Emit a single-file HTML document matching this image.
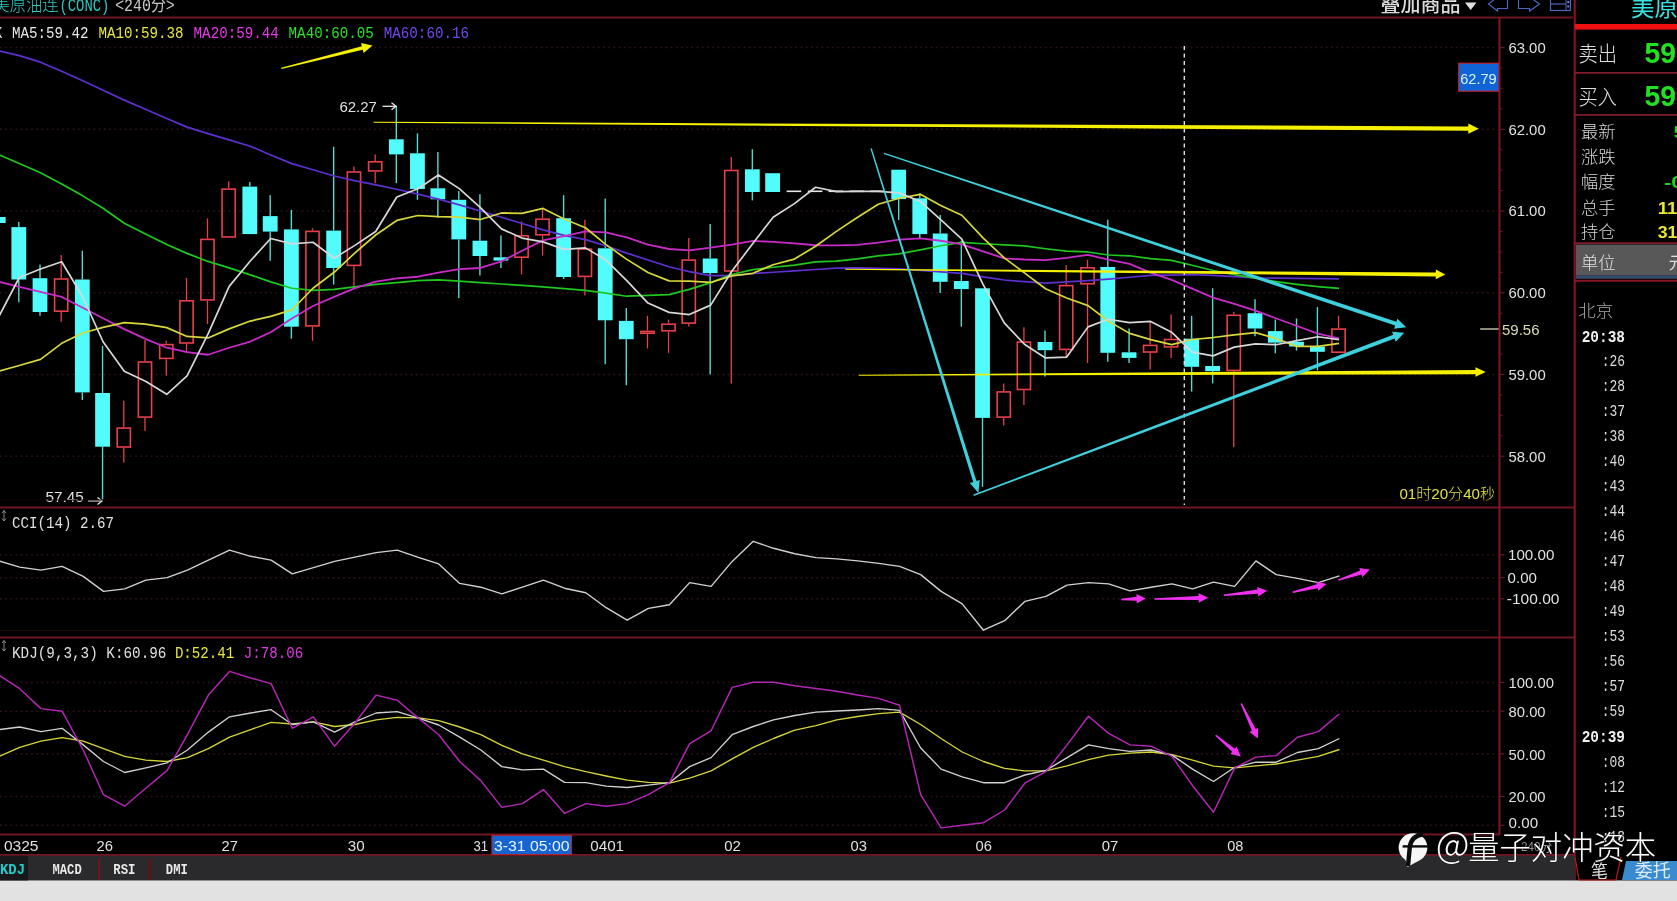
<!DOCTYPE html>
<html><head><meta charset="utf-8"><title>美原油连 CONC 240分</title>
<style>
html,body{margin:0;padding:0;background:#000;}
body{width:1677px;height:901px;overflow:hidden;}
svg{display:block;filter:blur(0.4px);}
</style></head><body>
<svg width="1677" height="901" viewBox="0 0 1677 901">
<rect x="0" y="0" width="1677" height="901" fill="#000" />
<line x1="0" y1="47.6" x2="1498" y2="47.6" stroke="#32161c" stroke-width="1.5" stroke-dasharray="1.5 3.7"/>
<line x1="0" y1="129.32" x2="1498" y2="129.32" stroke="#32161c" stroke-width="1.5" stroke-dasharray="1.5 3.7"/>
<line x1="0" y1="211.04" x2="1498" y2="211.04" stroke="#32161c" stroke-width="1.5" stroke-dasharray="1.5 3.7"/>
<line x1="0" y1="292.76" x2="1498" y2="292.76" stroke="#32161c" stroke-width="1.5" stroke-dasharray="1.5 3.7"/>
<line x1="0" y1="374.48" x2="1498" y2="374.48" stroke="#32161c" stroke-width="1.5" stroke-dasharray="1.5 3.7"/>
<line x1="0" y1="456.2" x2="1498" y2="456.2" stroke="#32161c" stroke-width="1.5" stroke-dasharray="1.5 3.7"/>
<text x="-6.5" y="11.2" fill="#2cc8c0" font-size="18.5" font-family='"Liberation Sans", "Noto Sans CJK SC", sans-serif' textLength="65" lengthAdjust="spacingAndGlyphs" font-weight="300">美原油连</text>
<text x="59.4" y="11.2" fill="#2cc8c0" font-size="18.5" font-family='"Liberation Mono", "Noto Sans CJK SC", monospace' textLength="50" lengthAdjust="spacingAndGlyphs">(CONC)</text>
<text x="115.2" y="11.2" fill="#c8c8c8" font-size="18.5" font-family='"Liberation Mono", "Noto Sans CJK SC", monospace' textLength="59.5" lengthAdjust="spacingAndGlyphs">&lt;240分&gt;</text>
<text x="1380.5" y="11.8" fill="#dcdcdc" font-size="20" font-family='"Liberation Sans", "Noto Sans CJK SC", sans-serif' textLength="80" lengthAdjust="spacingAndGlyphs" font-weight="500">叠加商品</text>
<polygon points="1465,2.5 1476.5,2.5 1470.7,10" fill="#e0e0e0"/>
<path d="M1507.5,-1 L1507.5,8.5 L1497.5,8.5 L1497.5,11 L1488.5,4 L1497.5,-3" fill="none" stroke="#4a66c0" stroke-width="1.2"/>
<path d="M1518.5,-1 L1518.5,8.5 L1529.5,8.5 L1529.5,11 L1539.5,4 L1529.5,-3" fill="none" stroke="#4a66c0" stroke-width="1.2"/>
<rect x="1550.5" y="-2" width="20" height="12.5" fill="none" stroke="#4a66c0" stroke-width="1.2"/>
<line x1="1550.5" y1="4" x2="1566" y2="4" stroke="#4a66c0" stroke-width="1.2" />
<line x1="1566" y1="-2" x2="1566" y2="10.5" stroke="#4a66c0" stroke-width="1" />
<rect x="1567.3" y="1" width="2" height="2" fill="#6a86e0" />
<rect x="1567.3" y="5.5" width="2" height="2" fill="#6a86e0" />
<text x="-5.3" y="38.2" fill="#e6e6e6" font-size="16.5" font-family='"Liberation Mono", "Noto Sans CJK SC", monospace' textLength="7.44" lengthAdjust="spacingAndGlyphs">K</text>
<text x="12" y="38.2" fill="#e6e6e6" font-size="16.5" font-family='"Liberation Mono", "Noto Sans CJK SC", monospace' textLength="76.56" lengthAdjust="spacingAndGlyphs">MA5:59.42</text>
<text x="98.4" y="38.2" fill="#e6e640" font-size="16.5" font-family='"Liberation Mono", "Noto Sans CJK SC", monospace' textLength="85.2" lengthAdjust="spacingAndGlyphs">MA10:59.38</text>
<text x="193.6" y="38.2" fill="#e838e8" font-size="16.5" font-family='"Liberation Mono", "Noto Sans CJK SC", monospace' textLength="85.2" lengthAdjust="spacingAndGlyphs">MA20:59.44</text>
<text x="288.6" y="38.2" fill="#2ae02a" font-size="16.5" font-family='"Liberation Mono", "Noto Sans CJK SC", monospace' textLength="85.2" lengthAdjust="spacingAndGlyphs">MA40:60.05</text>
<text x="383.8" y="38.2" fill="#7448f0" font-size="16.5" font-family='"Liberation Mono", "Noto Sans CJK SC", monospace' textLength="85.2" lengthAdjust="spacingAndGlyphs">MA60:60.16</text>
<rect x="-9.15" y="217" width="14.8" height="6" fill="#52fcfc" />
<line x1="18.81" y1="222" x2="18.81" y2="227.1" stroke="#5ad8d0" stroke-width="1.4" />
<line x1="18.81" y1="279.5" x2="18.81" y2="302.3" stroke="#5ad8d0" stroke-width="1.4" />
<rect x="11.41" y="227.1" width="14.8" height="52.4" fill="#52fcfc" />
<line x1="40" y1="264.6" x2="40" y2="278.2" stroke="#5ad8d0" stroke-width="1.4" />
<line x1="40" y1="312" x2="40" y2="315.7" stroke="#5ad8d0" stroke-width="1.4" />
<rect x="32.6" y="278.2" width="14.8" height="33.8" fill="#52fcfc" />
<line x1="61.2" y1="254.9" x2="61.2" y2="278.2" stroke="#e8404a" stroke-width="1.3" />
<line x1="61.2" y1="312" x2="61.2" y2="321.8" stroke="#e8404a" stroke-width="1.3" />
<rect x="54.6" y="279" width="13.2" height="32.2" fill="none" stroke="#e8404a" stroke-width="1.6"/>
<line x1="82.32" y1="250.7" x2="82.32" y2="279.5" stroke="#5ad8d0" stroke-width="1.4" />
<line x1="82.32" y1="392.4" x2="82.32" y2="400" stroke="#5ad8d0" stroke-width="1.4" />
<rect x="74.92" y="279.5" width="14.8" height="112.9" fill="#52fcfc" />
<line x1="102.56" y1="346" x2="102.56" y2="393" stroke="#5ad8d0" stroke-width="1.4" />
<line x1="102.56" y1="446.7" x2="102.56" y2="499.6" stroke="#5ad8d0" stroke-width="1.4" />
<rect x="95.16" y="393" width="14.8" height="53.7" fill="#52fcfc" />
<line x1="123.79" y1="400.8" x2="123.79" y2="427.3" stroke="#e8404a" stroke-width="1.3" />
<line x1="123.79" y1="447.8" x2="123.79" y2="462.6" stroke="#e8404a" stroke-width="1.3" />
<rect x="117.19" y="428.1" width="13.2" height="18.9" fill="none" stroke="#e8404a" stroke-width="1.6"/>
<line x1="144.98" y1="340" x2="144.98" y2="361.2" stroke="#e8404a" stroke-width="1.3" />
<line x1="144.98" y1="417.9" x2="144.98" y2="430.7" stroke="#e8404a" stroke-width="1.3" />
<rect x="138.38" y="362" width="13.2" height="55.1" fill="none" stroke="#e8404a" stroke-width="1.6"/>
<line x1="166.28" y1="340.8" x2="166.28" y2="343.8" stroke="#e8404a" stroke-width="1.3" />
<line x1="166.28" y1="359.2" x2="166.28" y2="375.8" stroke="#e8404a" stroke-width="1.3" />
<rect x="159.68" y="344.6" width="13.2" height="13.8" fill="none" stroke="#e8404a" stroke-width="1.6"/>
<line x1="186.53" y1="278" x2="186.53" y2="300" stroke="#e8404a" stroke-width="1.3" />
<line x1="186.53" y1="343.8" x2="186.53" y2="351.5" stroke="#e8404a" stroke-width="1.3" />
<rect x="179.93" y="300.8" width="13.2" height="42.2" fill="none" stroke="#e8404a" stroke-width="1.6"/>
<line x1="207.48" y1="218.4" x2="207.48" y2="238.6" stroke="#e8404a" stroke-width="1.3" />
<line x1="207.48" y1="300.7" x2="207.48" y2="324" stroke="#e8404a" stroke-width="1.3" />
<rect x="200.88" y="239.4" width="13.2" height="60.5" fill="none" stroke="#e8404a" stroke-width="1.6"/>
<line x1="228.67" y1="181.3" x2="228.67" y2="188.3" stroke="#e8404a" stroke-width="1.3" />
<rect x="222.07" y="189.1" width="13.2" height="47.8" fill="none" stroke="#e8404a" stroke-width="1.6"/>
<line x1="249.82" y1="182" x2="249.82" y2="186.6" stroke="#5ad8d0" stroke-width="1.4" />
<rect x="242.42" y="186.6" width="14.8" height="47.5" fill="#52fcfc" />
<line x1="270.21" y1="195.3" x2="270.21" y2="216.1" stroke="#5ad8d0" stroke-width="1.4" />
<line x1="270.21" y1="231.6" x2="270.21" y2="260.7" stroke="#5ad8d0" stroke-width="1.4" />
<rect x="262.81" y="216.1" width="14.8" height="15.5" fill="#52fcfc" />
<line x1="291.37" y1="210" x2="291.37" y2="229.4" stroke="#5ad8d0" stroke-width="1.4" />
<line x1="291.37" y1="326.7" x2="291.37" y2="338.7" stroke="#5ad8d0" stroke-width="1.4" />
<rect x="283.97" y="229.4" width="14.8" height="97.3" fill="#52fcfc" />
<line x1="312.49" y1="228.3" x2="312.49" y2="230.6" stroke="#e8404a" stroke-width="1.3" />
<line x1="312.49" y1="326.7" x2="312.49" y2="340.8" stroke="#e8404a" stroke-width="1.3" />
<rect x="305.89" y="231.4" width="13.2" height="94.5" fill="none" stroke="#e8404a" stroke-width="1.6"/>
<line x1="333.65" y1="146.7" x2="333.65" y2="230.6" stroke="#5ad8d0" stroke-width="1.4" />
<line x1="333.65" y1="268" x2="333.65" y2="284.6" stroke="#5ad8d0" stroke-width="1.4" />
<rect x="326.25" y="230.6" width="14.8" height="37.4" fill="#52fcfc" />
<line x1="353.96" y1="166.6" x2="353.96" y2="171.2" stroke="#e8404a" stroke-width="1.3" />
<line x1="353.96" y1="266.2" x2="353.96" y2="288" stroke="#e8404a" stroke-width="1.3" />
<rect x="347.36" y="172" width="13.2" height="93.4" fill="none" stroke="#e8404a" stroke-width="1.6"/>
<line x1="375.19" y1="154.4" x2="375.19" y2="161" stroke="#e8404a" stroke-width="1.3" />
<line x1="375.19" y1="171.7" x2="375.19" y2="183.2" stroke="#e8404a" stroke-width="1.3" />
<rect x="368.59" y="161.8" width="13.2" height="9.1" fill="none" stroke="#e8404a" stroke-width="1.6"/>
<line x1="396.31" y1="105.8" x2="396.31" y2="139.3" stroke="#5ad8d0" stroke-width="1.4" />
<line x1="396.31" y1="154.4" x2="396.31" y2="183.2" stroke="#5ad8d0" stroke-width="1.4" />
<rect x="388.91" y="139.3" width="14.8" height="15.1" fill="#52fcfc" />
<line x1="417.44" y1="133.4" x2="417.44" y2="153.3" stroke="#5ad8d0" stroke-width="1.4" />
<line x1="417.44" y1="189" x2="417.44" y2="199.8" stroke="#5ad8d0" stroke-width="1.4" />
<rect x="410.04" y="153.3" width="14.8" height="35.7" fill="#52fcfc" />
<line x1="437.89" y1="152" x2="437.89" y2="188.3" stroke="#5ad8d0" stroke-width="1.4" />
<line x1="437.89" y1="199.3" x2="437.89" y2="217.7" stroke="#5ad8d0" stroke-width="1.4" />
<rect x="430.49" y="188.3" width="14.8" height="11" fill="#52fcfc" />
<line x1="458.8" y1="190.9" x2="458.8" y2="199.8" stroke="#5ad8d0" stroke-width="1.4" />
<line x1="458.8" y1="239.4" x2="458.8" y2="298.1" stroke="#5ad8d0" stroke-width="1.4" />
<rect x="451.4" y="199.8" width="14.8" height="39.6" fill="#52fcfc" />
<line x1="479.93" y1="194.2" x2="479.93" y2="240.7" stroke="#5ad8d0" stroke-width="1.4" />
<line x1="479.93" y1="256" x2="479.93" y2="275.6" stroke="#5ad8d0" stroke-width="1.4" />
<rect x="472.53" y="240.7" width="14.8" height="15.3" fill="#52fcfc" />
<line x1="500.94" y1="235.6" x2="500.94" y2="257.3" stroke="#5ad8d0" stroke-width="1.4" />
<line x1="500.94" y1="260.6" x2="500.94" y2="268" stroke="#5ad8d0" stroke-width="1.4" />
<rect x="493.54" y="257.3" width="14.8" height="3.3" fill="#52fcfc" />
<line x1="521.54" y1="221.5" x2="521.54" y2="235" stroke="#e8404a" stroke-width="1.3" />
<line x1="521.54" y1="258" x2="521.54" y2="274.4" stroke="#e8404a" stroke-width="1.3" />
<rect x="514.94" y="235.8" width="13.2" height="21.4" fill="none" stroke="#e8404a" stroke-width="1.6"/>
<line x1="542.56" y1="208.7" x2="542.56" y2="218.4" stroke="#e8404a" stroke-width="1.3" />
<line x1="542.56" y1="235.6" x2="542.56" y2="255.5" stroke="#e8404a" stroke-width="1.3" />
<rect x="535.96" y="219.2" width="13.2" height="15.6" fill="none" stroke="#e8404a" stroke-width="1.6"/>
<line x1="563.61" y1="195.2" x2="563.61" y2="218.2" stroke="#5ad8d0" stroke-width="1.4" />
<line x1="563.61" y1="277" x2="563.61" y2="279" stroke="#5ad8d0" stroke-width="1.4" />
<rect x="556.21" y="218.2" width="14.8" height="58.8" fill="#52fcfc" />
<line x1="584.91" y1="219.7" x2="584.91" y2="248.3" stroke="#e8404a" stroke-width="1.3" />
<line x1="584.91" y1="277.2" x2="584.91" y2="295.6" stroke="#e8404a" stroke-width="1.3" />
<rect x="578.31" y="249.1" width="13.2" height="27.3" fill="none" stroke="#e8404a" stroke-width="1.6"/>
<line x1="605.22" y1="198.5" x2="605.22" y2="248.3" stroke="#5ad8d0" stroke-width="1.4" />
<line x1="605.22" y1="320.3" x2="605.22" y2="364.3" stroke="#5ad8d0" stroke-width="1.4" />
<rect x="597.82" y="248.3" width="14.8" height="72" fill="#52fcfc" />
<line x1="626.28" y1="308.1" x2="626.28" y2="320.9" stroke="#5ad8d0" stroke-width="1.4" />
<line x1="626.28" y1="339.2" x2="626.28" y2="385.2" stroke="#5ad8d0" stroke-width="1.4" />
<rect x="618.88" y="320.9" width="14.8" height="18.3" fill="#52fcfc" />
<line x1="647.47" y1="315.8" x2="647.47" y2="330.6" stroke="#e8404a" stroke-width="1.3" />
<line x1="647.47" y1="334.1" x2="647.47" y2="348.4" stroke="#e8404a" stroke-width="1.3" />
<rect x="640.87" y="331.4" width="13.2" height="1.9" fill="none" stroke="#e8404a" stroke-width="1.6"/>
<line x1="668.55" y1="319.6" x2="668.55" y2="323.4" stroke="#e8404a" stroke-width="1.3" />
<line x1="668.55" y1="331.6" x2="668.55" y2="352.8" stroke="#e8404a" stroke-width="1.3" />
<rect x="661.95" y="324.2" width="13.2" height="6.6" fill="none" stroke="#e8404a" stroke-width="1.6"/>
<line x1="688.77" y1="238.1" x2="688.77" y2="259.3" stroke="#e8404a" stroke-width="1.3" />
<line x1="688.77" y1="323.9" x2="688.77" y2="326.5" stroke="#e8404a" stroke-width="1.3" />
<rect x="682.17" y="260.1" width="13.2" height="63" fill="none" stroke="#e8404a" stroke-width="1.6"/>
<line x1="710.17" y1="224" x2="710.17" y2="258.5" stroke="#5ad8d0" stroke-width="1.4" />
<line x1="710.17" y1="273.1" x2="710.17" y2="374.5" stroke="#5ad8d0" stroke-width="1.4" />
<rect x="702.77" y="258.5" width="14.8" height="14.6" fill="#52fcfc" />
<line x1="731.29" y1="156.9" x2="731.29" y2="169.7" stroke="#e8404a" stroke-width="1.3" />
<line x1="731.29" y1="271.8" x2="731.29" y2="383.4" stroke="#e8404a" stroke-width="1.3" />
<rect x="724.69" y="170.5" width="13.2" height="100.5" fill="none" stroke="#e8404a" stroke-width="1.6"/>
<line x1="752.34" y1="149.2" x2="752.34" y2="169.3" stroke="#5ad8d0" stroke-width="1.4" />
<line x1="752.34" y1="192" x2="752.34" y2="200.4" stroke="#5ad8d0" stroke-width="1.4" />
<rect x="744.94" y="169.3" width="14.8" height="22.7" fill="#52fcfc" />
<rect x="765.22" y="173.2" width="14.8" height="18.8" fill="#52fcfc" />
<line x1="786.62" y1="191.3" x2="801.22" y2="191.3" stroke="#e8e8e8" stroke-width="1.6" />
<line x1="807.81" y1="191.3" x2="822.41" y2="191.3" stroke="#e8e8e8" stroke-width="1.6" />
<line x1="828.55" y1="191.3" x2="843.15" y2="191.3" stroke="#e8e8e8" stroke-width="1.6" />
<line x1="849.49" y1="191.3" x2="864.09" y2="191.3" stroke="#e8e8e8" stroke-width="1.6" />
<line x1="870.43" y1="191.3" x2="885.03" y2="191.3" stroke="#e8e8e8" stroke-width="1.6" />
<line x1="898.69" y1="199.1" x2="898.69" y2="219.9" stroke="#5ad8d0" stroke-width="1.4" />
<rect x="891.29" y="169.7" width="14.8" height="29.4" fill="#52fcfc" />
<line x1="919.78" y1="193.3" x2="919.78" y2="198.3" stroke="#5ad8d0" stroke-width="1.4" />
<line x1="919.78" y1="234.1" x2="919.78" y2="238" stroke="#5ad8d0" stroke-width="1.4" />
<rect x="912.38" y="198.3" width="14.8" height="35.8" fill="#52fcfc" />
<line x1="940.2" y1="215.1" x2="940.2" y2="233.5" stroke="#5ad8d0" stroke-width="1.4" />
<line x1="940.2" y1="281.8" x2="940.2" y2="293" stroke="#5ad8d0" stroke-width="1.4" />
<rect x="932.8" y="233.5" width="14.8" height="48.3" fill="#52fcfc" />
<line x1="961.32" y1="240.7" x2="961.32" y2="281" stroke="#5ad8d0" stroke-width="1.4" />
<line x1="961.32" y1="289.1" x2="961.32" y2="326.7" stroke="#5ad8d0" stroke-width="1.4" />
<rect x="953.92" y="281" width="14.8" height="8.1" fill="#52fcfc" />
<line x1="982.51" y1="417.9" x2="982.51" y2="486.8" stroke="#5ad8d0" stroke-width="1.4" />
<rect x="975.11" y="288.3" width="14.8" height="129.6" fill="#52fcfc" />
<line x1="1003.74" y1="383.4" x2="1003.74" y2="391.1" stroke="#e8404a" stroke-width="1.3" />
<line x1="1003.74" y1="417.9" x2="1003.74" y2="425.6" stroke="#e8404a" stroke-width="1.3" />
<rect x="997.14" y="391.9" width="13.2" height="25.2" fill="none" stroke="#e8404a" stroke-width="1.6"/>
<line x1="1023.92" y1="327.2" x2="1023.92" y2="341.3" stroke="#e8404a" stroke-width="1.3" />
<line x1="1023.92" y1="390.3" x2="1023.92" y2="405.1" stroke="#e8404a" stroke-width="1.3" />
<rect x="1017.32" y="342.1" width="13.2" height="47.4" fill="none" stroke="#e8404a" stroke-width="1.6"/>
<line x1="1045.01" y1="330.6" x2="1045.01" y2="342" stroke="#5ad8d0" stroke-width="1.4" />
<line x1="1045.01" y1="350.2" x2="1045.01" y2="376.5" stroke="#5ad8d0" stroke-width="1.4" />
<rect x="1037.61" y="342" width="14.8" height="8.2" fill="#52fcfc" />
<line x1="1066.2" y1="264.9" x2="1066.2" y2="284.8" stroke="#e8404a" stroke-width="1.3" />
<line x1="1066.2" y1="350.2" x2="1066.2" y2="357.9" stroke="#e8404a" stroke-width="1.3" />
<rect x="1059.6" y="285.6" width="13.2" height="63.8" fill="none" stroke="#e8404a" stroke-width="1.6"/>
<line x1="1087.53" y1="259.8" x2="1087.53" y2="267" stroke="#e8404a" stroke-width="1.3" />
<line x1="1087.53" y1="284.6" x2="1087.53" y2="363" stroke="#e8404a" stroke-width="1.3" />
<rect x="1080.93" y="267.8" width="13.2" height="16" fill="none" stroke="#e8404a" stroke-width="1.6"/>
<line x1="1107.78" y1="219.7" x2="1107.78" y2="267" stroke="#5ad8d0" stroke-width="1.4" />
<line x1="1107.78" y1="352.8" x2="1107.78" y2="361.7" stroke="#5ad8d0" stroke-width="1.4" />
<rect x="1100.38" y="267" width="14.8" height="85.8" fill="#52fcfc" />
<line x1="1129.07" y1="328.5" x2="1129.07" y2="352.3" stroke="#5ad8d0" stroke-width="1.4" />
<line x1="1129.07" y1="357.9" x2="1129.07" y2="363" stroke="#5ad8d0" stroke-width="1.4" />
<rect x="1121.67" y="352.3" width="14.8" height="5.6" fill="#52fcfc" />
<line x1="1150.16" y1="320.9" x2="1150.16" y2="344.6" stroke="#e8404a" stroke-width="1.3" />
<line x1="1150.16" y1="352.8" x2="1150.16" y2="369.4" stroke="#e8404a" stroke-width="1.3" />
<rect x="1143.56" y="345.4" width="13.2" height="6.6" fill="none" stroke="#e8404a" stroke-width="1.6"/>
<line x1="1171.11" y1="314.5" x2="1171.11" y2="338.7" stroke="#e8404a" stroke-width="1.3" />
<line x1="1171.11" y1="347.7" x2="1171.11" y2="357.9" stroke="#e8404a" stroke-width="1.3" />
<rect x="1164.51" y="339.5" width="13.2" height="7.4" fill="none" stroke="#e8404a" stroke-width="1.6"/>
<line x1="1191.63" y1="315.8" x2="1191.63" y2="338.7" stroke="#5ad8d0" stroke-width="1.4" />
<line x1="1191.63" y1="366.8" x2="1191.63" y2="391.6" stroke="#5ad8d0" stroke-width="1.4" />
<rect x="1184.23" y="338.7" width="14.8" height="28.1" fill="#52fcfc" />
<line x1="1212.65" y1="288.2" x2="1212.65" y2="366" stroke="#5ad8d0" stroke-width="1.4" />
<line x1="1212.65" y1="371.2" x2="1212.65" y2="383.4" stroke="#5ad8d0" stroke-width="1.4" />
<rect x="1205.25" y="366" width="14.8" height="5.2" fill="#52fcfc" />
<line x1="1233.77" y1="312" x2="1233.77" y2="314.5" stroke="#e8404a" stroke-width="1.3" />
<line x1="1233.77" y1="371.2" x2="1233.77" y2="447.3" stroke="#e8404a" stroke-width="1.3" />
<rect x="1227.17" y="315.3" width="13.2" height="55.1" fill="none" stroke="#e8404a" stroke-width="1.6"/>
<line x1="1255" y1="299.2" x2="1255" y2="313.2" stroke="#5ad8d0" stroke-width="1.4" />
<line x1="1255" y1="328.5" x2="1255" y2="336.2" stroke="#5ad8d0" stroke-width="1.4" />
<rect x="1247.6" y="313.2" width="14.8" height="15.3" fill="#52fcfc" />
<line x1="1275.32" y1="319.6" x2="1275.32" y2="331.1" stroke="#5ad8d0" stroke-width="1.4" />
<line x1="1275.32" y1="342.6" x2="1275.32" y2="353.3" stroke="#5ad8d0" stroke-width="1.4" />
<rect x="1267.92" y="331.1" width="14.8" height="11.5" fill="#52fcfc" />
<line x1="1296.51" y1="318.5" x2="1296.51" y2="341.8" stroke="#5ad8d0" stroke-width="1.4" />
<line x1="1296.51" y1="346.5" x2="1296.51" y2="350.6" stroke="#5ad8d0" stroke-width="1.4" />
<rect x="1289.11" y="341.8" width="14.8" height="4.7" fill="#52fcfc" />
<line x1="1317.42" y1="307.1" x2="1317.42" y2="346.6" stroke="#5ad8d0" stroke-width="1.4" />
<line x1="1317.42" y1="351.8" x2="1317.42" y2="370.4" stroke="#5ad8d0" stroke-width="1.4" />
<rect x="1310.02" y="346.6" width="14.8" height="5.2" fill="#52fcfc" />
<line x1="1338.54" y1="315.7" x2="1338.54" y2="328.3" stroke="#e8404a" stroke-width="1.3" />
<rect x="1331.94" y="329.1" width="13.2" height="23.1" fill="none" stroke="#e8404a" stroke-width="1.6"/>
<polyline points="-1.25,50.75 19.31,55.6 40.5,62.17 61.7,71.31 82.82,80.8 103.06,90.24 124.29,100.14 145.48,109.3 166.78,118.45 187.03,127.15 207.98,133.58 229.17,139.91 250.32,146.23 270.71,154.97 291.87,163.61 312.99,169.8 334.15,176.01 354.46,180.63 375.69,184.9 396.81,189.24 417.94,194.11 438.39,199.16 459.3,204.88 480.43,211.01 501.44,217.26 522.04,223.49 543.06,229.86 564.11,235.37 585.41,239.59 605.72,245.77 626.78,253.12 647.97,259.96 669.05,266.75 689.27,271.56 710.67,275.7 731.79,275.58 752.84,273.62 773.12,272.23 794.42,270.87 815.61,269.52 836.35,268.2 857.29,267.88 878.23,268.39 899.19,268.89 920.28,270.37 940.7,271.8 961.82,273.29 983.01,276.79 1004.24,280.01 1024.42,281.71 1045.51,283.17 1066.7,281.91 1088.03,280.64 1108.28,279.12 1129.57,277.26 1150.66,275.41 1171.61,275.06 1192.13,274.73 1213.15,275.41 1234.27,276.6 1255.5,277.85 1275.82,278.17 1297.01,278.38 1317.92,278.59 1339.04,278.79" fill="none" stroke="#5e30d0" stroke-width="1.7" stroke-linejoin="round" />
<polyline points="-1.25,154.58 19.31,163.53 40.5,172.68 61.7,183.91 82.82,195.85 103.06,208.3 124.29,223.3 145.48,233.89 166.78,244.54 187.03,253.36 207.98,261.42 229.17,267.82 250.32,274.83 270.71,281.91 291.87,288.24 312.99,290.41 334.15,289.37 354.46,286.81 375.69,284.43 396.81,282.7 417.94,280.6 438.39,279.82 459.3,281.21 480.43,282.6 501.44,283.99 522.04,285.36 543.06,286.84 564.11,288.6 585.41,290.39 605.72,293.05 626.78,296.22 647.97,295.47 669.05,294.62 689.27,289.34 710.67,282.66 731.79,274.5 752.84,269.69 773.12,267.23 794.42,265.11 815.61,261.84 836.35,261.05 857.29,258.85 878.23,255.83 899.19,253.85 920.28,249.9 940.7,245.77 961.82,242.32 983.01,243.73 1004.24,244.92 1024.42,245.95 1045.51,248.74 1066.7,251.15 1088.03,251.97 1108.28,255.01 1129.57,255.78 1150.66,258.63 1171.61,260.4 1192.13,265.29 1213.15,270.55 1234.27,274.55 1255.5,278.04 1275.82,281.62 1297.01,284.3 1317.92,286.69 1339.04,288.38" fill="none" stroke="#1ec81e" stroke-width="1.7" stroke-linejoin="round" />
<polyline points="-1.25,281.66 19.31,286.82 40.5,291.89 61.7,296.96 82.82,307.74 103.06,318.29 124.29,329.13 145.48,338.82 166.78,347.72 187.03,352.18 207.98,354.74 229.17,347.74 250.32,341.54 270.71,332.28 291.87,318.43 312.99,305.98 334.15,296.82 354.46,288.32 375.69,281.73 396.81,278.43 417.94,276.73 438.39,272.72 459.3,269.09 480.43,267.98 501.44,261.39 522.04,250.81 543.06,240.36 564.11,236.15 585.41,231.38 605.72,232.39 626.78,237.42 647.97,244.53 669.05,249 689.27,250.39 710.67,247.71 731.79,244.66 752.84,240.86 773.12,241.9 794.42,243.42 815.61,245.26 836.35,245.38 857.29,244.97 878.23,242.57 899.19,239.72 920.28,238.4 940.7,240.74 961.82,244.28 983.01,251.32 1004.24,258.46 1024.42,259.51 1045.51,260.06 1066.7,257.77 1088.03,254.95 1108.28,259.62 1129.57,263.87 1150.66,272.61 1171.61,279.94 1192.13,288.69 1213.15,297.68 1234.27,303.84 1255.5,310.7 1275.82,318.26 1297.01,326.02 1317.92,333.66 1339.04,338.37" fill="none" stroke="#c82cc8" stroke-width="1.8" stroke-linejoin="round" />
<polyline points="-1.25,371.19 19.31,365.47 40.5,359.39 61.7,343.34 82.82,333.01 103.06,327.35 124.29,322.63 145.48,324.05 166.78,327.61 187.03,336.41 207.98,337.97 229.17,328.85 250.32,321.06 270.71,316.4 291.87,309.83 312.99,288.22 334.15,272.29 354.46,253.29 375.69,235.01 396.81,220.45 417.94,215.49 438.39,216.59 459.3,217.12 480.43,219.56 501.44,212.95 522.04,213.39 543.06,208.43 564.11,219.01 585.41,227.74 605.72,244.33 626.78,259.35 647.97,272.48 669.05,280.88 689.27,281.21 710.67,282.46 731.79,275.93 752.84,273.29 773.12,264.79 794.42,259.09 815.61,246.19 836.35,231.4 857.29,217.47 878.23,204.26 899.19,198.24 920.28,194.34 940.7,205.55 961.82,215.26 983.01,237.85 1004.24,257.83 1024.42,272.83 1045.51,288.72 1066.7,298.07 1088.03,305.64 1108.28,321.01 1129.57,333.39 1150.66,339.67 1171.61,344.63 1192.13,339.52 1213.15,337.53 1234.27,334.85 1255.5,332.68 1275.82,338.46 1297.01,346.41 1317.92,346.31 1339.04,343.35" fill="none" stroke="#d8d83a" stroke-width="1.7" stroke-linejoin="round" />
<polyline points="-1.25,316.69 19.31,277.51 40.5,268.99 61.7,261.77 82.82,297.02 103.06,341.76 124.29,371.32 145.48,381.16 166.78,394.28 187.03,375.8 207.98,334.18 229.17,286.38 250.32,260.96 270.71,238.52 291.87,243.86 312.99,242.26 334.15,258.2 354.46,245.62 375.69,231.5 396.81,197.04 417.94,188.72 438.39,174.98 459.3,188.62 480.43,207.62 501.44,228.86 522.04,238.06 543.06,241.88 564.11,249.4 585.41,247.86 605.72,259.8 626.78,280.64 647.97,303.08 669.05,312.36 689.27,314.56 710.67,305.12 731.79,271.22 752.84,243.5 773.12,217.22 794.42,203.62 815.61,187.26 836.35,191.58 857.29,191.44 878.23,191.3 899.19,192.86 920.28,201.42 940.7,219.52 961.82,239.08 983.01,284.4 1004.24,322.8 1024.42,344.24 1045.51,357.92 1066.7,357.06 1088.03,326.88 1108.28,319.22 1129.57,322.54 1150.66,321.42 1171.61,332.2 1192.13,352.16 1213.15,355.84 1234.27,347.16 1255.5,343.94 1275.82,344.72 1297.01,340.66 1317.92,336.78 1339.04,339.54" fill="none" stroke="#d8d8d8" stroke-width="1.7" stroke-linejoin="round" />
<text x="339.4" y="112" fill="#e0e0e0" font-size="15" font-family='"Liberation Sans", "Noto Sans CJK SC", sans-serif' textLength="37.5" lengthAdjust="spacingAndGlyphs">62.27</text>
<line x1="382.5" y1="106.3" x2="395.5" y2="106.3" stroke="#e8e8e8" stroke-width="1.3" />
<polyline points="391.5,102.8 396,106.3 391.5,109.8" fill="none" stroke="#e8e8e8" stroke-width="1.3"/>
<text x="45.5" y="502.2" fill="#e0e0e0" font-size="15" font-family='"Liberation Sans", "Noto Sans CJK SC", sans-serif' textLength="38.3" lengthAdjust="spacingAndGlyphs">57.45</text>
<line x1="88" y1="500.9" x2="101.5" y2="500.9" stroke="#e8e8e8" stroke-width="1.3" />
<polyline points="97.5,497.4 102,500.9 97.5,504.4" fill="none" stroke="#e8e8e8" stroke-width="1.3"/>
<line x1="1184.3" y1="46" x2="1184.3" y2="505" stroke="#e0e0e0" stroke-width="1.4" stroke-dasharray="4 3.5"/>
<polygon points="373.6,122.85 1468.29,130.84 1468.27,133.84 1478.8,128.7 1468.33,123.44 1468.31,126.44 373.6,121.75" fill="#f4f000"/>
<polygon points="845.2,269.85 1435.78,276.42 1435.76,279.22 1445.3,274.5 1435.84,269.62 1435.82,272.42 845.2,268.75" fill="#f4f000"/>
<polygon points="858.8,375.75 1475.51,374.15 1475.52,376.85 1485.7,372 1475.48,367.25 1475.49,369.95 858.8,374.65" fill="#f4f000"/>
<polygon points="281.46,68.93 362.75,49.7 363.58,53 372.5,45.4 361.05,42.91 361.88,46.21 281.14,67.67" fill="#f4f000"/>
<polygon points="870.43,148.71 973.21,482.05 969.87,483.09 978.4,493 979.8,480 976.45,481.04 871.77,148.29" fill="#3ed0dc"/>
<polygon points="883.78,153.96 1395.15,325.57 1394.09,328.75 1406.2,327.2 1397.44,318.7 1396.38,321.87 884.22,152.64" fill="#3ed0dc"/>
<polygon points="973.88,496.05 1394.6,338.51 1395.78,341.64 1404.2,332.8 1392.04,331.73 1393.22,334.86 973.32,494.55" fill="#3ed0dc"/>
<line x1="1480.2" y1="329" x2="1499" y2="329" stroke="#c8c8b0" stroke-width="1.4" />
<rect x="1458.7" y="63.2" width="40.3" height="28" fill="#1064d6" stroke="#e02020" stroke-width="1"/>
<text x="1460.2" y="83.6" fill="#d8f4ff" font-size="15" font-family='"Liberation Sans", "Noto Sans CJK SC", sans-serif' textLength="36.5" lengthAdjust="spacingAndGlyphs">62.79</text>
<text x="1399.4" y="498.6" fill="#e2e244" font-size="15" font-family='"Liberation Sans", "Noto Sans CJK SC", sans-serif' textLength="95.7" lengthAdjust="spacingAndGlyphs" font-weight="300">01时20分40秒</text>
<line x1="0" y1="17.5" x2="1573" y2="17.5" stroke="#6e1622" stroke-width="1.8" />
<line x1="0" y1="500" x2="1495" y2="500" stroke="#1c0606" stroke-width="1" />
<line x1="0" y1="507.5" x2="1575" y2="507.5" stroke="#6e1622" stroke-width="1.8" />
<line x1="0" y1="630.5" x2="1490" y2="630.5" stroke="#220808" stroke-width="1" />
<line x1="0" y1="637.5" x2="1575" y2="637.5" stroke="#6e1622" stroke-width="1.8" />
<line x1="0" y1="834.5" x2="1500" y2="834.5" stroke="#6e1622" stroke-width="1.8" />
<line x1="0" y1="855" x2="1575" y2="855" stroke="#6e1622" stroke-width="1.8" />
<line x1="1499.5" y1="17.5" x2="1499.5" y2="834.5" stroke="#8e1428" stroke-width="1.9" />
<line x1="1574.7" y1="0" x2="1574.7" y2="880" stroke="#8e1428" stroke-width="2" />
<line x1="1499" y1="47.6" x2="1504.5" y2="47.6" stroke="#6a1a22" stroke-width="1.2" />
<text x="1508.4" y="53" fill="#e0e0e0" font-size="15" font-family='"Liberation Sans", "Noto Sans CJK SC", sans-serif' textLength="37.3" lengthAdjust="spacingAndGlyphs">63.00</text>
<line x1="1499" y1="129.32" x2="1504.5" y2="129.32" stroke="#6a1a22" stroke-width="1.2" />
<text x="1508.4" y="134.72" fill="#e0e0e0" font-size="15" font-family='"Liberation Sans", "Noto Sans CJK SC", sans-serif' textLength="37.3" lengthAdjust="spacingAndGlyphs">62.00</text>
<line x1="1499" y1="211.04" x2="1504.5" y2="211.04" stroke="#6a1a22" stroke-width="1.2" />
<text x="1508.4" y="216.44" fill="#e0e0e0" font-size="15" font-family='"Liberation Sans", "Noto Sans CJK SC", sans-serif' textLength="37.3" lengthAdjust="spacingAndGlyphs">61.00</text>
<line x1="1499" y1="292.76" x2="1504.5" y2="292.76" stroke="#6a1a22" stroke-width="1.2" />
<text x="1508.4" y="298.16" fill="#e0e0e0" font-size="15" font-family='"Liberation Sans", "Noto Sans CJK SC", sans-serif' textLength="37.3" lengthAdjust="spacingAndGlyphs">60.00</text>
<line x1="1499" y1="374.48" x2="1504.5" y2="374.48" stroke="#6a1a22" stroke-width="1.2" />
<text x="1508.4" y="379.88" fill="#e0e0e0" font-size="15" font-family='"Liberation Sans", "Noto Sans CJK SC", sans-serif' textLength="37.3" lengthAdjust="spacingAndGlyphs">59.00</text>
<line x1="1499" y1="456.2" x2="1504.5" y2="456.2" stroke="#6a1a22" stroke-width="1.2" />
<text x="1508.4" y="461.6" fill="#e0e0e0" font-size="15" font-family='"Liberation Sans", "Noto Sans CJK SC", sans-serif' textLength="37.3" lengthAdjust="spacingAndGlyphs">58.00</text>
<line x1="1499" y1="68.03" x2="1502.5" y2="68.03" stroke="#7a1818" stroke-width="1" />
<line x1="1499" y1="88.46" x2="1502.5" y2="88.46" stroke="#7a1818" stroke-width="1" />
<line x1="1499" y1="108.89" x2="1502.5" y2="108.89" stroke="#7a1818" stroke-width="1" />
<line x1="1499" y1="149.75" x2="1502.5" y2="149.75" stroke="#7a1818" stroke-width="1" />
<line x1="1499" y1="170.18" x2="1502.5" y2="170.18" stroke="#7a1818" stroke-width="1" />
<line x1="1499" y1="190.61" x2="1502.5" y2="190.61" stroke="#7a1818" stroke-width="1" />
<line x1="1499" y1="231.47" x2="1502.5" y2="231.47" stroke="#7a1818" stroke-width="1" />
<line x1="1499" y1="251.9" x2="1502.5" y2="251.9" stroke="#7a1818" stroke-width="1" />
<line x1="1499" y1="272.33" x2="1502.5" y2="272.33" stroke="#7a1818" stroke-width="1" />
<line x1="1499" y1="313.19" x2="1502.5" y2="313.19" stroke="#7a1818" stroke-width="1" />
<line x1="1499" y1="333.62" x2="1502.5" y2="333.62" stroke="#7a1818" stroke-width="1" />
<line x1="1499" y1="354.05" x2="1502.5" y2="354.05" stroke="#7a1818" stroke-width="1" />
<line x1="1499" y1="394.91" x2="1502.5" y2="394.91" stroke="#7a1818" stroke-width="1" />
<line x1="1499" y1="415.34" x2="1502.5" y2="415.34" stroke="#7a1818" stroke-width="1" />
<line x1="1499" y1="435.77" x2="1502.5" y2="435.77" stroke="#7a1818" stroke-width="1" />
<text x="1502" y="334.6" fill="#dcdcb0" font-size="15" font-family='"Liberation Sans", "Noto Sans CJK SC", sans-serif' textLength="37.5" lengthAdjust="spacingAndGlyphs">59.56</text>
<text x="12" y="527.8" fill="#e0e0e0" font-size="16.5" font-family='"Liberation Mono", "Noto Sans CJK SC", monospace' textLength="102" lengthAdjust="spacingAndGlyphs">CCI(14) 2.67</text>
<path d="M2,513 L4,510.5 L6,513 M4,510.5 L4,521 M2,518.5 L4,521 L6,518.5" stroke="#888" stroke-width="1" fill="none"/>
<line x1="0" y1="554.8" x2="1498" y2="554.8" stroke="#32161c" stroke-width="1.5" stroke-dasharray="1.5 3.7"/>
<line x1="0" y1="577.7" x2="1498" y2="577.7" stroke="#32161c" stroke-width="1.5" stroke-dasharray="1.5 3.7"/>
<line x1="0" y1="598.8" x2="1498" y2="598.8" stroke="#32161c" stroke-width="1.5" stroke-dasharray="1.5 3.7"/>
<text x="1508" y="560.2" fill="#e0e0e0" font-size="15" font-family='"Liberation Sans", "Noto Sans CJK SC", sans-serif' textLength="46.4" lengthAdjust="spacingAndGlyphs">100.00</text>
<line x1="1499" y1="554.8" x2="1504.5" y2="554.8" stroke="#6a1a22" stroke-width="1.2" />
<text x="1507.6" y="583.1" fill="#e0e0e0" font-size="15" font-family='"Liberation Sans", "Noto Sans CJK SC", sans-serif' textLength="29.3" lengthAdjust="spacingAndGlyphs">0.00</text>
<line x1="1499" y1="577.7" x2="1504.5" y2="577.7" stroke="#6a1a22" stroke-width="1.2" />
<text x="1506.8" y="604.2" fill="#e0e0e0" font-size="15" font-family='"Liberation Sans", "Noto Sans CJK SC", sans-serif' textLength="52.6" lengthAdjust="spacingAndGlyphs">-100.00</text>
<line x1="1499" y1="598.8" x2="1504.5" y2="598.8" stroke="#6a1a22" stroke-width="1.2" />
<polyline points="-0.85,560.9 19.71,567.1 40.9,570.1 62.1,566.4 83.22,576.4 103.47,591.4 124.69,588.9 145.88,580.1 167.18,577.6 187.43,570.1 208.38,560.1 229.57,550.1 250.72,556.3 271.11,560.1 292.27,573.9 313.39,567.6 334.55,561.4 354.86,557.1 376.09,552.6 397.21,550.1 418.33,557.3 438.79,563.9 459.7,583.4 480.83,587.2 501.84,593.9 522.44,587.2 543.46,580.1 564.51,588.2 585.81,592.7 606.12,607.7 627.18,620.2 648.37,608.4 669.45,604.7 689.67,582.6 711.07,586.4 732.19,561.4 753.24,541.3 773.52,548.3 794.82,553.8 816.01,557.6 836.75,558.9 857.69,560.9 878.63,563.4 899.59,566.4 920.68,574.6 941.1,591.4 962.22,603.9 983.41,630.2 1004.64,620.7 1024.82,601.4 1045.91,596.4 1067.1,585.1 1088.43,582.6 1108.68,583.9 1129.97,590.9 1151.06,587.2 1172.01,583.9 1192.53,588.9 1213.55,582.1 1234.67,586.4 1255.9,560.9 1276.22,574.6 1297.41,578.4 1318.32,582.6 1339.44,575.9" fill="none" stroke="#d0d0d0" stroke-width="1.4" stroke-linejoin="round" />
<polygon points="1121.33,600.15 1136.69,600.87 1136.8,603.57 1145.6,598.4 1136.41,593.97 1136.52,596.67 1121.27,598.65" fill="#f030f0"/>
<polygon points="1154.42,599.65 1198.74,600.09 1198.8,602.79 1208.2,597.8 1198.6,593.2 1198.66,595.89 1154.38,598.15" fill="#f030f0"/>
<polygon points="1223.88,595.95 1257.97,593.77 1258.25,596.45 1267.2,590.7 1257.26,586.91 1257.53,589.59 1223.72,594.45" fill="#f030f0"/>
<polygon points="1292.88,592.93 1317.77,588.2 1318.42,590.83 1326.5,583.9 1316.13,581.5 1316.77,584.13 1292.52,591.47" fill="#f030f0"/>
<polygon points="1338.54,580.81 1361.45,574.6 1362.31,577.16 1369.8,569.6 1359.27,568.05 1360.12,570.61 1338.06,579.39" fill="#f030f0"/>
<text x="12" y="657.5" fill="#e0e0e0" font-size="16.5" font-family='"Liberation Mono", "Noto Sans CJK SC", monospace' textLength="154.4" lengthAdjust="spacingAndGlyphs">KDJ(9,3,3) K:60.96</text>
<text x="174.9" y="657.5" fill="#e6e640" font-size="16.5" font-family='"Liberation Mono", "Noto Sans CJK SC", monospace' textLength="59.3" lengthAdjust="spacingAndGlyphs">D:52.41</text>
<text x="243.8" y="657.5" fill="#e038e0" font-size="16.5" font-family='"Liberation Mono", "Noto Sans CJK SC", monospace' textLength="59.3" lengthAdjust="spacingAndGlyphs">J:78.06</text>
<path d="M2,643 L4,640.5 L6,643 M4,640.5 L4,651 M2,648.5 L4,651 L6,648.5" stroke="#888" stroke-width="1" fill="none"/>
<line x1="0" y1="682.5" x2="1498" y2="682.5" stroke="#32161c" stroke-width="1.5" stroke-dasharray="1.5 3.7"/>
<line x1="1499" y1="682.5" x2="1504.5" y2="682.5" stroke="#6a1a22" stroke-width="1.2" />
<line x1="0" y1="711.2" x2="1498" y2="711.2" stroke="#32161c" stroke-width="1.5" stroke-dasharray="1.5 3.7"/>
<line x1="1499" y1="711.2" x2="1504.5" y2="711.2" stroke="#6a1a22" stroke-width="1.2" />
<line x1="0" y1="753.9" x2="1498" y2="753.9" stroke="#32161c" stroke-width="1.5" stroke-dasharray="1.5 3.7"/>
<line x1="1499" y1="753.9" x2="1504.5" y2="753.9" stroke="#6a1a22" stroke-width="1.2" />
<line x1="0" y1="796.5" x2="1498" y2="796.5" stroke="#32161c" stroke-width="1.5" stroke-dasharray="1.5 3.7"/>
<line x1="1499" y1="796.5" x2="1504.5" y2="796.5" stroke="#6a1a22" stroke-width="1.2" />
<line x1="0" y1="825.3" x2="1498" y2="825.3" stroke="#32161c" stroke-width="1.5" stroke-dasharray="1.5 3.7"/>
<line x1="1499" y1="825.3" x2="1504.5" y2="825.3" stroke="#6a1a22" stroke-width="1.2" />
<text x="1508.6" y="688.2" fill="#e0e0e0" font-size="15" font-family='"Liberation Sans", "Noto Sans CJK SC", sans-serif' textLength="45.4" lengthAdjust="spacingAndGlyphs">100.00</text>
<text x="1508.6" y="717.1" fill="#e0e0e0" font-size="15" font-family='"Liberation Sans", "Noto Sans CJK SC", sans-serif' textLength="37" lengthAdjust="spacingAndGlyphs">80.00</text>
<text x="1508.6" y="759.7" fill="#e0e0e0" font-size="15" font-family='"Liberation Sans", "Noto Sans CJK SC", sans-serif' textLength="37" lengthAdjust="spacingAndGlyphs">50.00</text>
<text x="1508.6" y="801.9" fill="#e0e0e0" font-size="15" font-family='"Liberation Sans", "Noto Sans CJK SC", sans-serif' textLength="37" lengthAdjust="spacingAndGlyphs">20.00</text>
<text x="1508.6" y="828.1" fill="#e0e0e0" font-size="15" font-family='"Liberation Sans", "Noto Sans CJK SC", sans-serif' textLength="29.5" lengthAdjust="spacingAndGlyphs">0.00</text>
<polyline points="-0.85,756.4 19.71,747.4 40.9,741.1 62.1,737.7 83.22,741.1 103.47,748.7 124.69,756.4 145.88,760.2 167.18,761.5 187.43,757.6 208.38,748.7 229.57,737.2 250.72,729.6 271.11,722.4 292.27,724 313.39,721.9 334.55,726.5 354.86,724.5 376.09,719.9 397.21,717.3 418.33,717.8 438.79,720.6 459.7,727 480.83,734.7 501.84,745.4 522.44,753.8 543.46,760.2 564.51,766.6 585.81,771.7 606.12,776 627.18,780.1 648.37,782.4 669.45,783.2 689.67,778.1 711.07,770.9 732.19,758.9 753.24,747.4 773.52,738.5 794.82,730.1 816.01,725.7 836.75,719.9 857.69,716.5 878.63,713.7 899.59,712.2 920.68,724.5 941.1,738.5 962.22,752 983.41,761.5 1004.64,768.4 1024.82,770.9 1045.91,770.9 1067.1,765.8 1088.43,759.7 1108.68,755.1 1129.97,753.1 1151.06,752 1172.01,754.6 1192.53,760.2 1213.55,766.2 1234.67,767.9 1255.9,765.8 1276.22,764 1297.41,760.2 1318.32,756.4 1339.44,749.5" fill="none" stroke="#d4d43a" stroke-width="1.35" stroke-linejoin="round" />
<polyline points="-0.85,729.6 19.71,727 40.9,731.6 62.1,728.3 83.22,744.9 103.47,761.5 124.69,772.5 145.88,767.9 167.18,762.8 187.43,750 208.38,732.1 229.57,716.8 250.72,713 271.11,709.7 292.27,724.5 313.39,721.9 334.55,732.1 354.86,721.9 376.09,713 397.21,711.7 418.33,718.1 438.79,725 459.7,737.2 480.83,750 501.84,766.6 522.44,769.9 543.46,769.1 564.51,782.4 585.81,782.7 606.12,786.2 627.18,787.5 648.37,785.2 669.45,782.7 689.67,766.6 711.07,757.6 732.19,734.7 753.24,726.5 773.52,719.9 794.82,715.5 816.01,712.2 836.75,711 857.69,710 878.63,708.6 899.59,710.4 920.68,748 941.1,769.1 962.22,776.8 983.41,782.7 1004.64,782.7 1024.82,775 1045.91,770.4 1067.1,757.6 1088.43,744.9 1108.68,748.7 1129.97,751.3 1151.06,750 1172.01,755.1 1192.53,769.1 1213.55,781.5 1234.67,767.3 1255.9,762.2 1276.22,762.2 1297.41,752.5 1318.32,748.7 1339.44,738.5" fill="none" stroke="#d0d0d0" stroke-width="1.35" stroke-linejoin="round" />
<polyline points="-0.85,675.4 19.71,688.7 40.9,708.6 62.1,711.2 83.22,750 103.47,794.7 124.69,806.2 145.88,788.3 167.18,770.4 187.43,734.7 208.38,695.1 229.57,671.4 250.72,678 271.11,683.6 292.27,728.3 313.39,716.8 334.55,746.2 354.86,723.2 376.09,695.1 397.21,700.2 418.33,718.1 438.79,734.7 459.7,761.5 480.83,780.6 501.84,807.4 522.44,803.6 543.46,789.6 564.51,813.3 585.81,803.6 606.12,806.2 627.18,803.6 648.37,794.7 669.45,782.7 689.67,743.6 711.07,730.8 732.19,687.4 753.24,682.3 773.52,682.3 794.82,685.7 816.01,688.5 836.75,691.3 857.69,695 878.63,698.4 899.59,705.3 920.68,794.7 941.1,827.9 962.22,825.3 983.41,822.7 1004.64,810 1024.82,783.2 1045.91,771.7 1067.1,744.9 1088.43,716.3 1108.68,733.4 1129.97,744.9 1151.06,746.2 1172.01,756.4 1192.53,785.7 1213.55,812.2 1234.67,767.9 1255.9,757.1 1276.22,755.6 1297.41,737.2 1318.32,731.6 1339.44,713.7" fill="none" stroke="#b626b6" stroke-width="1.45" stroke-linejoin="round" />
<polygon points="1215.22,735.77 1232.19,751.87 1230.45,753.94 1240.8,756.4 1236.64,746.6 1234.9,748.67 1216.18,734.63" fill="#f030f0"/>
<polygon points="1240.62,703.82 1251.93,730.82 1249.49,731.97 1257.9,738.5 1258.17,727.86 1255.73,729.02 1241.98,703.18" fill="#f030f0"/>
<text x="3.9" y="850.6" fill="#e0e0e0" font-size="15" font-family='"Liberation Sans", "Noto Sans CJK SC", sans-serif' textLength="34.6" lengthAdjust="spacingAndGlyphs">0325</text>
<text x="96.6" y="850.6" fill="#e0e0e0" font-size="15" font-family='"Liberation Sans", "Noto Sans CJK SC", sans-serif' textLength="16.5" lengthAdjust="spacingAndGlyphs">26</text>
<text x="221.5" y="850.6" fill="#e0e0e0" font-size="15" font-family='"Liberation Sans", "Noto Sans CJK SC", sans-serif' textLength="16.4" lengthAdjust="spacingAndGlyphs">27</text>
<text x="347.7" y="850.6" fill="#e0e0e0" font-size="15" font-family='"Liberation Sans", "Noto Sans CJK SC", sans-serif' textLength="16.9" lengthAdjust="spacingAndGlyphs">30</text>
<text x="473.5" y="850.6" fill="#e0e0e0" font-size="15" font-family='"Liberation Sans", "Noto Sans CJK SC", sans-serif' textLength="14.5" lengthAdjust="spacingAndGlyphs">31</text>
<text x="590.2" y="850.6" fill="#e0e0e0" font-size="15" font-family='"Liberation Sans", "Noto Sans CJK SC", sans-serif' textLength="33.9" lengthAdjust="spacingAndGlyphs">0401</text>
<text x="724.2" y="850.6" fill="#e0e0e0" font-size="15" font-family='"Liberation Sans", "Noto Sans CJK SC", sans-serif' textLength="16.6" lengthAdjust="spacingAndGlyphs">02</text>
<text x="850.5" y="850.6" fill="#e0e0e0" font-size="15" font-family='"Liberation Sans", "Noto Sans CJK SC", sans-serif' textLength="16.4" lengthAdjust="spacingAndGlyphs">03</text>
<text x="975.6" y="850.6" fill="#e0e0e0" font-size="15" font-family='"Liberation Sans", "Noto Sans CJK SC", sans-serif' textLength="16.4" lengthAdjust="spacingAndGlyphs">06</text>
<text x="1101.8" y="850.6" fill="#e0e0e0" font-size="15" font-family='"Liberation Sans", "Noto Sans CJK SC", sans-serif' textLength="16.6" lengthAdjust="spacingAndGlyphs">07</text>
<text x="1227.2" y="850.6" fill="#e0e0e0" font-size="15" font-family='"Liberation Sans", "Noto Sans CJK SC", sans-serif' textLength="16.1" lengthAdjust="spacingAndGlyphs">08</text>
<rect x="491.9" y="835.3" width="79.7" height="19.2" fill="#1464d2" stroke="#c02020" stroke-width="1"/>
<text x="494" y="850.6" fill="#eaf4ff" font-size="15" font-family='"Liberation Sans", "Noto Sans CJK SC", sans-serif' textLength="75.5" lengthAdjust="spacingAndGlyphs">3-31 05:00</text>
<text x="1521" y="850.5" fill="#909090" font-size="13" font-family='"Liberation Sans", "Noto Sans CJK SC", sans-serif' textLength="31" lengthAdjust="spacingAndGlyphs">240分</text>
<rect x="0" y="855.8" width="1575" height="24.6" fill="#2a2a2d" />
<rect x="0" y="880.4" width="1677" height="20.6" fill="#e2e2e2" />
<rect x="0" y="855.8" width="28" height="24.6" fill="#18181a" />
<text x="0" y="873.5" fill="#22cccc" font-size="14" font-family='"Liberation Mono", "Noto Sans CJK SC", monospace' font-weight="bold" textLength="25" lengthAdjust="spacingAndGlyphs">KDJ</text>
<text x="52.5" y="873.5" fill="#e8e8e8" font-size="14" font-family='"Liberation Mono", "Noto Sans CJK SC", monospace' font-weight="bold" textLength="29.2" lengthAdjust="spacingAndGlyphs">MACD</text>
<text x="113.3" y="873.5" fill="#e8e8e8" font-size="14" font-family='"Liberation Mono", "Noto Sans CJK SC", monospace' font-weight="bold" textLength="22.1" lengthAdjust="spacingAndGlyphs">RSI</text>
<text x="165.8" y="873.5" fill="#e8e8e8" font-size="14" font-family='"Liberation Mono", "Noto Sans CJK SC", monospace' font-weight="bold" textLength="22" lengthAdjust="spacingAndGlyphs">DMI</text>
<line x1="99" y1="859" x2="99" y2="880" stroke="#701818" stroke-width="2" />
<line x1="149.8" y1="859" x2="149.8" y2="880" stroke="#501818" stroke-width="3" />
<text x="1631" y="16" fill="#36e2e2" font-size="22.5" font-family='"Liberation Sans", "Noto Sans CJK SC", sans-serif' textLength="47" lengthAdjust="spacingAndGlyphs">美原</text>
<rect x="1575" y="24" width="102" height="5.6" fill="#f01010" />
<text x="1578.5" y="61" fill="#e0e0e0" font-size="21" font-family='"Liberation Sans", "Noto Sans CJK SC", sans-serif' textLength="38.5" lengthAdjust="spacingAndGlyphs" font-weight="300">卖出</text>
<text x="1644.5" y="63" fill="#22e022" font-size="29.5" font-family='"Liberation Sans", "Noto Sans CJK SC", sans-serif' font-weight="bold" textLength="31.5" lengthAdjust="spacingAndGlyphs">59</text>
<line x1="1575" y1="72.8" x2="1677" y2="72.8" stroke="#7e1a2a" stroke-width="1.8" />
<text x="1578.5" y="103.5" fill="#e0e0e0" font-size="21" font-family='"Liberation Sans", "Noto Sans CJK SC", sans-serif' textLength="38.5" lengthAdjust="spacingAndGlyphs" font-weight="300">买入</text>
<text x="1644.5" y="106" fill="#22e022" font-size="29.5" font-family='"Liberation Sans", "Noto Sans CJK SC", sans-serif' font-weight="bold" textLength="31.5" lengthAdjust="spacingAndGlyphs">59</text>
<line x1="1575" y1="114.9" x2="1677" y2="114.9" stroke="#7e1a2a" stroke-width="1.8" />
<text x="1581" y="137.5" fill="#d8d8d8" font-size="17" font-family='"Liberation Sans", "Noto Sans CJK SC", sans-serif' textLength="34.5" lengthAdjust="spacingAndGlyphs" font-weight="300">最新</text>
<text x="1673.7" y="137.5" fill="#22d022" font-size="17" font-family='"Liberation Sans", "Noto Sans CJK SC", sans-serif' font-weight="bold" textLength="9.8" lengthAdjust="spacingAndGlyphs">5</text>
<text x="1581" y="163" fill="#d8d8d8" font-size="17" font-family='"Liberation Sans", "Noto Sans CJK SC", sans-serif' textLength="34.5" lengthAdjust="spacingAndGlyphs" font-weight="300">涨跌</text>
<text x="1581" y="188.4" fill="#d8d8d8" font-size="17" font-family='"Liberation Sans", "Noto Sans CJK SC", sans-serif' textLength="34.5" lengthAdjust="spacingAndGlyphs" font-weight="300">幅度</text>
<text x="1664" y="188.4" fill="#22d022" font-size="17" font-family='"Liberation Sans", "Noto Sans CJK SC", sans-serif' font-weight="bold" textLength="19.6" lengthAdjust="spacingAndGlyphs">-0</text>
<text x="1581" y="213.5" fill="#d8d8d8" font-size="17" font-family='"Liberation Sans", "Noto Sans CJK SC", sans-serif' textLength="34.5" lengthAdjust="spacingAndGlyphs" font-weight="300">总手</text>
<text x="1657.7" y="213.5" fill="#e8e830" font-size="17" font-family='"Liberation Sans", "Noto Sans CJK SC", sans-serif' font-weight="bold" textLength="19.6" lengthAdjust="spacingAndGlyphs">11</text>
<text x="1581" y="238" fill="#d8d8d8" font-size="17" font-family='"Liberation Sans", "Noto Sans CJK SC", sans-serif' textLength="34.5" lengthAdjust="spacingAndGlyphs" font-weight="300">持仓</text>
<text x="1657.7" y="238" fill="#e8e830" font-size="17" font-family='"Liberation Sans", "Noto Sans CJK SC", sans-serif' font-weight="bold" textLength="19.6" lengthAdjust="spacingAndGlyphs">31</text>
<line x1="1575" y1="243.2" x2="1677" y2="243.2" stroke="#7e1a2a" stroke-width="1.8" />
<rect x="1576" y="244.5" width="101" height="31" fill="#585858" />
<rect x="1576" y="275.3" width="101" height="3.5" fill="#364a68" />
<line x1="1575" y1="280.8" x2="1677" y2="280.8" stroke="#8e1428" stroke-width="2" />
<text x="1581" y="268.5" fill="#e0e0e0" font-size="17" font-family='"Liberation Sans", "Noto Sans CJK SC", sans-serif' textLength="34.5" lengthAdjust="spacingAndGlyphs" font-weight="300">单位</text>
<text x="1668.8" y="268.5" fill="#e0e0e0" font-size="17" font-family='"Liberation Sans", "Noto Sans CJK SC", sans-serif'>元</text>
<text x="1578.3" y="317" fill="#a8a8a8" font-size="17" font-family='"Liberation Sans", "Noto Sans CJK SC", sans-serif' textLength="35" lengthAdjust="spacingAndGlyphs" font-weight="300">北京</text>
<text x="1601.7" y="366" fill="#dcdcdc" font-size="16" font-family='"Liberation Mono", "Noto Sans CJK SC", monospace' textLength="23.3" lengthAdjust="spacingAndGlyphs">:26</text>
<text x="1601.7" y="391" fill="#dcdcdc" font-size="16" font-family='"Liberation Mono", "Noto Sans CJK SC", monospace' textLength="23.3" lengthAdjust="spacingAndGlyphs">:28</text>
<text x="1601.7" y="416" fill="#dcdcdc" font-size="16" font-family='"Liberation Mono", "Noto Sans CJK SC", monospace' textLength="23.3" lengthAdjust="spacingAndGlyphs">:37</text>
<text x="1601.7" y="441" fill="#dcdcdc" font-size="16" font-family='"Liberation Mono", "Noto Sans CJK SC", monospace' textLength="23.3" lengthAdjust="spacingAndGlyphs">:38</text>
<text x="1601.7" y="466" fill="#dcdcdc" font-size="16" font-family='"Liberation Mono", "Noto Sans CJK SC", monospace' textLength="23.3" lengthAdjust="spacingAndGlyphs">:40</text>
<text x="1601.7" y="491" fill="#dcdcdc" font-size="16" font-family='"Liberation Mono", "Noto Sans CJK SC", monospace' textLength="23.3" lengthAdjust="spacingAndGlyphs">:43</text>
<text x="1601.7" y="516" fill="#dcdcdc" font-size="16" font-family='"Liberation Mono", "Noto Sans CJK SC", monospace' textLength="23.3" lengthAdjust="spacingAndGlyphs">:44</text>
<text x="1601.7" y="541" fill="#dcdcdc" font-size="16" font-family='"Liberation Mono", "Noto Sans CJK SC", monospace' textLength="23.3" lengthAdjust="spacingAndGlyphs">:46</text>
<text x="1601.7" y="566" fill="#dcdcdc" font-size="16" font-family='"Liberation Mono", "Noto Sans CJK SC", monospace' textLength="23.3" lengthAdjust="spacingAndGlyphs">:47</text>
<text x="1601.7" y="591" fill="#dcdcdc" font-size="16" font-family='"Liberation Mono", "Noto Sans CJK SC", monospace' textLength="23.3" lengthAdjust="spacingAndGlyphs">:48</text>
<text x="1601.7" y="616" fill="#dcdcdc" font-size="16" font-family='"Liberation Mono", "Noto Sans CJK SC", monospace' textLength="23.3" lengthAdjust="spacingAndGlyphs">:49</text>
<text x="1601.7" y="641" fill="#dcdcdc" font-size="16" font-family='"Liberation Mono", "Noto Sans CJK SC", monospace' textLength="23.3" lengthAdjust="spacingAndGlyphs">:53</text>
<text x="1601.7" y="666" fill="#dcdcdc" font-size="16" font-family='"Liberation Mono", "Noto Sans CJK SC", monospace' textLength="23.3" lengthAdjust="spacingAndGlyphs">:56</text>
<text x="1601.7" y="691" fill="#dcdcdc" font-size="16" font-family='"Liberation Mono", "Noto Sans CJK SC", monospace' textLength="23.3" lengthAdjust="spacingAndGlyphs">:57</text>
<text x="1601.7" y="716" fill="#dcdcdc" font-size="16" font-family='"Liberation Mono", "Noto Sans CJK SC", monospace' textLength="23.3" lengthAdjust="spacingAndGlyphs">:59</text>
<text x="1601.7" y="767" fill="#dcdcdc" font-size="16" font-family='"Liberation Mono", "Noto Sans CJK SC", monospace' textLength="23.3" lengthAdjust="spacingAndGlyphs">:08</text>
<text x="1601.7" y="791.6" fill="#dcdcdc" font-size="16" font-family='"Liberation Mono", "Noto Sans CJK SC", monospace' textLength="23.3" lengthAdjust="spacingAndGlyphs">:12</text>
<text x="1601.7" y="816.5" fill="#dcdcdc" font-size="16" font-family='"Liberation Mono", "Noto Sans CJK SC", monospace' textLength="23.3" lengthAdjust="spacingAndGlyphs">:15</text>
<text x="1601.7" y="841.5" fill="#dcdcdc" font-size="16" font-family='"Liberation Mono", "Noto Sans CJK SC", monospace' textLength="23.3" lengthAdjust="spacingAndGlyphs">:18</text>
<text x="1581.7" y="342" fill="#f0f0f0" font-size="16" font-family='"Liberation Mono", "Noto Sans CJK SC", monospace' font-weight="bold" textLength="43.3" lengthAdjust="spacingAndGlyphs">20:38</text>
<text x="1581.7" y="742" fill="#f0f0f0" font-size="16" font-family='"Liberation Mono", "Noto Sans CJK SC", monospace' font-weight="bold" textLength="43.3" lengthAdjust="spacingAndGlyphs">20:39</text>
<path d="M1575,857 L1579,880 L1616,880 L1621,857" fill="#000" stroke="#c01818" stroke-width="1.2"/>
<text x="1591" y="876.5" fill="#e0e0e0" font-size="17" font-family='"Liberation Sans", "Noto Sans CJK SC", sans-serif'>笔</text>
<path d="M1622,880 L1626,861 L1677,861 L1677,880 Z" fill="#3a8ad0"/>
<text x="1634.7" y="877" fill="#dcecf8" font-size="18" font-family='"Liberation Sans", "Noto Sans CJK SC", sans-serif' textLength="36" lengthAdjust="spacingAndGlyphs">委托</text>
<g>
<circle cx="1413" cy="847.6" r="14.4" fill="#f6f6f6"/>
<polygon points="1404.5,857 1407.6,867 1419,860.5" fill="#f6f6f6"/>
<path d="M1423,834.3 Q1411.3,836 1409.8,847 L1408,866" stroke="#0c0c0c" stroke-width="4.4" fill="none"/>
<line x1="1402.6" y1="846.4" x2="1428" y2="846.4" stroke="#0c0c0c" stroke-width="2.4"/>
<text x="1452.5" y="858.3" fill="#ffffff" font-size="37" font-family='"Noto Sans CJK SC", "Liberation Sans", sans-serif' text-anchor="middle" font-weight="300" stroke="#1a1a1a" stroke-width="1" paint-order="stroke">@</text>
<text x="1468.2" y="858.7" fill="#ffffff" font-size="31.5" font-family='"Noto Sans CJK SC", "Liberation Sans", sans-serif' textLength="188" lengthAdjust="spacingAndGlyphs" font-weight="300" stroke="#1a1a1a" stroke-width="1" paint-order="stroke">量子对冲资本</text>
</g>
</svg>
</body></html>
